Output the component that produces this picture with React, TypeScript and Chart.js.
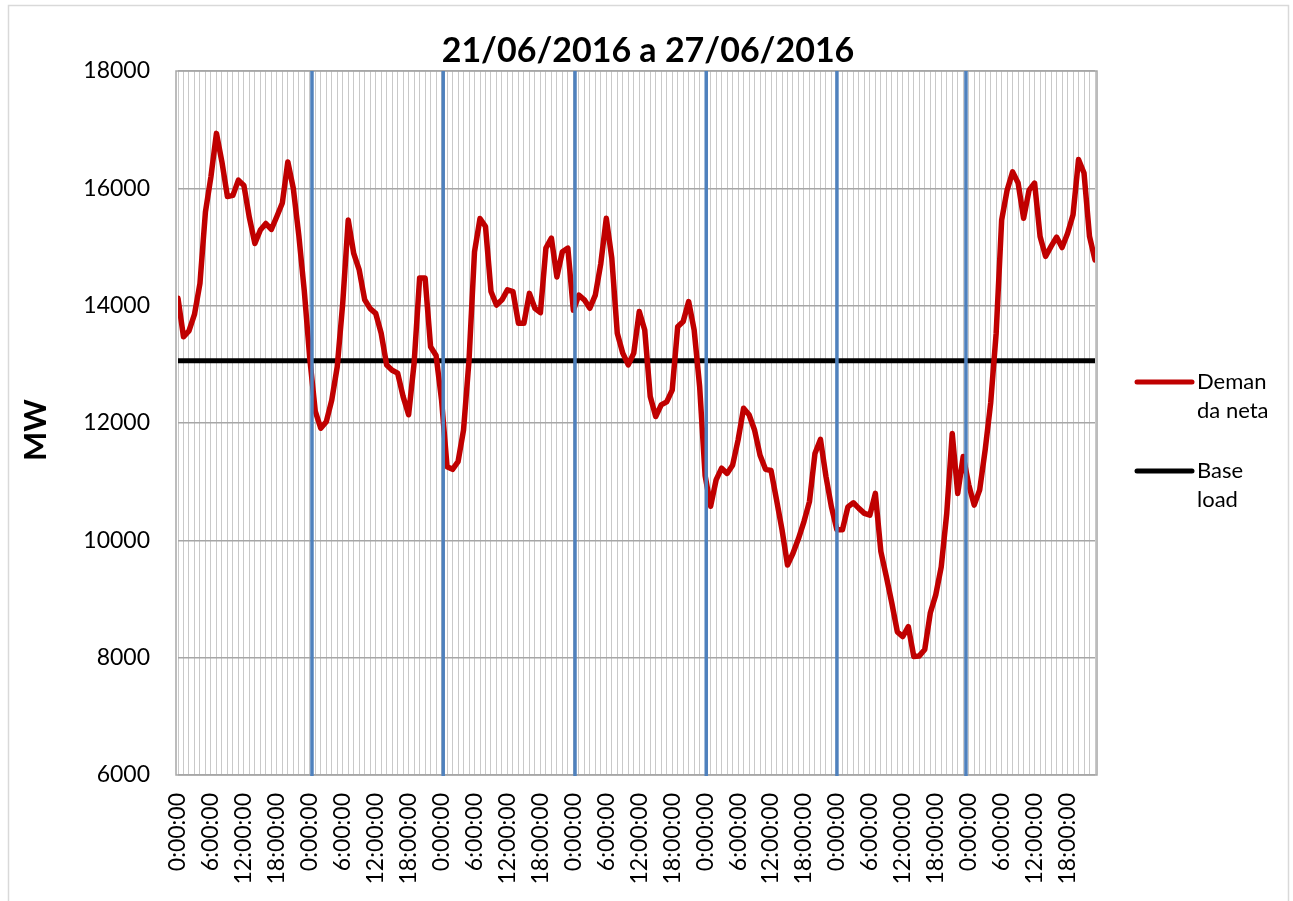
import React, { useEffect, useRef } from "react";
import { Chart, registerables } from "chart.js";

Chart.register(...registerables);

// Hourly net demand (MW), one array per day, 21/06/2016 .. 27/06/2016
const day21 = [14125, 13470, 13570, 13850, 14380, 15600, 16200, 16937, 16450, 15860, 15880, 16140, 16050, 15500, 15060, 15290, 15400, 15300, 15520, 15750, 16450, 16000, 15200, 14250];
const day22 = [13100, 12200, 11910, 12020, 12390, 12960, 14040, 15460, 14890, 14610, 14100, 13950, 13870, 13530, 12990, 12900, 12850, 12450, 12140, 13020, 14470, 14470, 13300, 13150];
const day23 = [12390, 11255, 11210, 11340, 11880, 13070, 14920, 15485, 15350, 14240, 14010, 14100, 14270, 14240, 13700, 13700, 14210, 13955, 13880, 14980, 15150, 14490, 14920, 14980];
const day24 = [13920, 14180, 14100, 13955, 14180, 14720, 15490, 14810, 13530, 13190, 12990, 13190, 13900, 13585, 12450, 12110, 12310, 12360, 12560, 13640, 13730, 14070, 13585, 12620];
const day25 = [11100, 10580, 11030, 11230, 11140, 11280, 11710, 12250, 12140, 11880, 11450, 11210, 11190, 10690, 10180, 9580, 9780, 10030, 10320, 10660, 11480, 11720, 11090, 10570];
const day26 = [10180, 10180, 10570, 10640, 10545, 10460, 10430, 10800, 9810, 9380, 8930, 8440, 8360, 8530, 8020, 8030, 8140, 8760, 9070, 9550, 10460, 11820, 10800, 11430];
const day27 = [10950, 10600, 10860, 11540, 12340, 13530, 15460, 15970, 16280, 16090, 15490, 15970, 16090, 15180, 14840, 15010, 15170, 14990, 15230, 15550, 16490, 16260, 15180, 14780];

const baseLoadValue = 13060;

// x tick labels (shown every 6 hours)
const tickLabels = ["0:00:00", "6:00:00", "12:00:00", "18:00:00"];
const labelEvery = 6;
const hoursPerDay = 24;

// y axis
const yMin = 6000;
const yMax = 18000;
const yStep = 2000;

// day separators (in hours from start), as drawn in the original
const daySeparators = [24.4, 48.3, 72.3, 96.2, 120, 143.5];

const titleText = "21/06/2016 a 27/06/2016";
const yTitle = "MW";
const legendItems = [
  { lines: ["Deman", "da neta"], color: "#C00000" },
  { lines: ["Base", "load"], color: "#000000" },
];

const FONT = "Lato, 'Open Sans', 'Liberation Sans', sans-serif";

export default function App() {
  const canvasRef = useRef<HTMLCanvasElement | null>(null);

  useEffect(() => {
    const canvas = canvasRef.current;
    if (!canvas) return;

    const demand = [...day21, ...day22, ...day23, ...day24, ...day25, ...day26, ...day27];
    const lastIndex = demand.length - 1;
    const demandPoints = demand.map((v, i) => ({ x: i, y: v }));
    const basePoints = [
      { x: 0, y: baseLoadValue },
      { x: lastIndex, y: baseLoadValue },
    ];

    const decorPlugin = {
      id: "decor",
      beforeDraw(chart: any) {
        const { ctx } = chart;
        ctx.save();
        ctx.fillStyle = "#ffffff";
        ctx.fillRect(0, 0, chart.width, chart.height);
        // outer chart border
        ctx.strokeStyle = "#d9d9d9";
        ctx.lineWidth = 1.5;
        ctx.beginPath();
        ctx.moveTo(8.5, chart.height + 5);
        ctx.lineTo(8.5, 5.5);
        ctx.lineTo(1288.5, 5.5);
        ctx.lineTo(1288.5, chart.height + 5);
        ctx.stroke();
        ctx.restore();
      },
      beforeDatasetsDraw(chart: any) {
        const { ctx, chartArea } = chart;
        ctx.save();
        ctx.strokeStyle = "#a6a6a6";
        ctx.lineWidth = 1.5;
        ctx.strokeRect(chartArea.left - 2, chartArea.top, chartArea.right - chartArea.left + 4, chartArea.bottom - chartArea.top);
        ctx.restore();
      },
      afterDatasetsDraw(chart: any) {
        const { ctx, chartArea } = chart;
        const xs = chart.scales.x;
        ctx.save();
        ctx.strokeStyle = "#4F81BD";
        ctx.lineWidth = 3.5;
        daySeparators.forEach((h) => {
          const px = xs.getPixelForValue(h);
          ctx.beginPath();
          ctx.moveTo(px, chartArea.top);
          ctx.lineTo(px, chartArea.bottom + 1);
          ctx.stroke();
        });
        ctx.restore();
      },
      afterDraw(chart: any) {
        const { ctx } = chart;
        ctx.save();
        // title
        ctx.fillStyle = "#000";
        ctx.font = `bold 34px ${FONT}`;
        ctx.textAlign = "center";
        ctx.textBaseline = "alphabetic";
        ctx.fillText(titleText, 648, 62);
        // y title
        ctx.save();
        ctx.translate(36, 430);
        ctx.rotate(-Math.PI / 2);
        ctx.font = `bold 31px ${FONT}`;
        ctx.textAlign = "center";
        ctx.textBaseline = "middle";
        ctx.fillText(yTitle, 0, 0);
        ctx.restore();
        // legend
        const lx0 = 1137;
        const lx1 = 1192;
        const ys = [382, 471];
        legendItems.forEach((item, k) => {
          const y = ys[k];
          ctx.strokeStyle = item.color;
          ctx.lineWidth = 5;
          ctx.lineCap = "round";
          ctx.beginPath();
          ctx.moveTo(lx0, y);
          ctx.lineTo(lx1, y);
          ctx.stroke();
          ctx.fillStyle = "#000";
          ctx.font = `22px ${FONT}`;
          ctx.textAlign = "left";
          ctx.textBaseline = "middle";
          item.lines.forEach((t, j) => ctx.fillText(t, 1197, y + j * 29));
        });
        ctx.restore();
      },
    };

    const chart = new Chart(canvas, {
      type: "line",
      data: {
        datasets: [
          {
            label: "Demanda neta",
            data: demandPoints,
            borderColor: "#C00000",
            backgroundColor: "#C00000",
            borderWidth: 5.5,
            pointRadius: 0,
            tension: 0,
            borderJoinStyle: "round",
            borderCapStyle: "round",
          },
          {
            label: "Base load",
            data: basePoints,
            borderColor: "#000000",
            backgroundColor: "#000000",
            borderWidth: 5,
            pointRadius: 0,
            borderCapStyle: "round",
          },
        ],
      },
      options: {
        animation: false,
        responsive: false,
        devicePixelRatio: 1,
        layout: { padding: { left: 0, right: 1293 - 1095, top: 71, bottom: 0 } },
        plugins: {
          legend: { display: false },
          title: { display: false },
          tooltip: { enabled: false },
        },
        scales: {
          x: {
            type: "linear",
            min: 0,
            max: lastIndex,
            afterFit(scale: any) {
              scale.height = 901 - 775;
            },
            border: { display: false },
            grid: {
              color: "#c9c9c9",
              lineWidth: 1,
              drawTicks: false,
            },
            ticks: {
              stepSize: 1,
              autoSkip: false,
              minRotation: 90,
              maxRotation: 90,
              padding: 18,
              color: "#000",
              font: { family: FONT, size: 23 },
              callback: (value: any) => {
                const i = Math.round(Number(value));
                if (i % labelEvery !== 0) return "";
                return tickLabels[(i % hoursPerDay) / labelEvery];
              },
            },
          },
          y: {
            min: yMin,
            max: yMax,
            afterFit(scale: any) {
              scale.width = 178;
            },
            border: { display: false },
            grid: {
              color: "#a6a6a6",
              lineWidth: 1.5,
              drawTicks: false,
            },
            ticks: {
              stepSize: yStep,
              padding: 28,
              color: "#000",
              font: { family: FONT, size: 23 },
              callback: (value: any) => String(value),
            },
          },
        },
      },
      plugins: [decorPlugin],
    });

    return () => chart.destroy();
  }, []);

  return (
    <div style={{ position: "absolute", left: 0, top: 0, width: 1293, height: 901 }}>
      <canvas ref={canvasRef} width={1293} height={901} style={{ display: "block" }} />
    </div>
  );
}
